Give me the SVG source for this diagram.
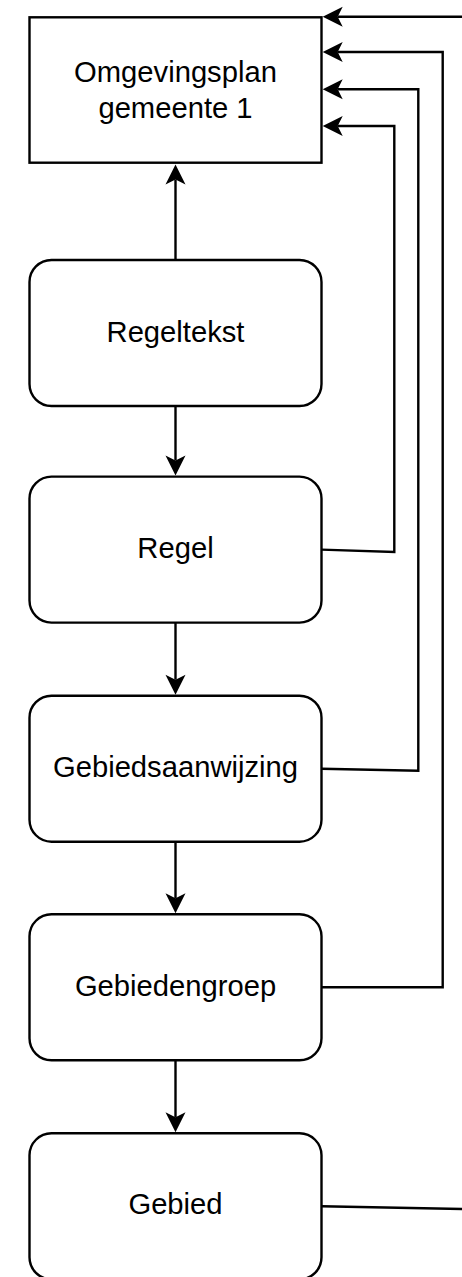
<svg xmlns="http://www.w3.org/2000/svg" width="462" height="1277" viewBox="0 0 462 1277">
  <style>
    .box { fill: #ffffff; stroke: #000000; stroke-width: 2.4; }
    .lbl { font-family: "Liberation Sans", Arial, Helvetica, sans-serif; font-size: 29.2px; fill: #000000; text-anchor: middle; }
    .edge { fill: none; stroke: #000000; stroke-width: 2.4; marker-end: url(#arr); }
  </style>
  <defs>
    <marker id="arr" markerUnits="userSpaceOnUse" markerWidth="21" markerHeight="21" refX="5" refY="10" orient="auto" overflow="visible">
      <path d="M0,0 L20,10 L0,20 L5,10 Z" fill="#000000"/>
    </marker>
  </defs>
  <rect x="0" y="0" width="462" height="1277" fill="#ffffff"/>

  <g id="connectors">
    <path class="edge" d="M175.5 260 V179.5"/>
    <path class="edge" d="M175.5 406 V460.5"/>
    <path class="edge" d="M175.5 622.6 V679.7"/>
    <path class="edge" d="M175.5 841.7 V898.3"/>
    <path class="edge" d="M175.5 1060.3 V1117.3"/>
    <path class="edge" d="M321.5 549.6 L394.3 552 V126 H337.7"/>
    <path class="edge" d="M321.5 768.7 L418.3 770.7 V89.3 H337.7"/>
    <path class="edge" d="M321.5 987.3 H442.7 V52 H337.7"/>
    <path class="edge" d="M321.5 1206.3 L480 1209.3 V16.7 H337.7"/>
  </g>

  <g id="omgevingsplan">
    <rect class="box" x="29.5" y="17.3" width="292" height="145.4"/>
    <text class="lbl" x="175.5" y="81.5">Omgevingsplan</text>
    <text class="lbl" x="175.5" y="118">gemeente 1</text>
  </g>
  <g id="regeltekst">
    <rect class="box" x="29.5" y="260" width="292" height="146" rx="22" ry="22"/>
    <text class="lbl" x="175.5" y="341.7">Regeltekst</text>
  </g>
  <g id="regel">
    <rect class="box" x="29.5" y="476.6" width="292" height="146" rx="22" ry="22"/>
    <text class="lbl" x="175.5" y="558.3">Regel</text>
  </g>
  <g id="gebiedsaanwijzing">
    <rect class="box" x="29.5" y="695.7" width="292" height="146" rx="22" ry="22"/>
    <text class="lbl" x="175.5" y="777.3">Gebiedsaanwijzing</text>
  </g>
  <g id="gebiedengroep">
    <rect class="box" x="29.5" y="914.3" width="292" height="146" rx="22" ry="22"/>
    <text class="lbl" x="175.5" y="995.7">Gebiedengroep</text>
  </g>
  <g id="gebied">
    <rect class="box" x="29.5" y="1133.3" width="292" height="146" rx="22" ry="22"/>
    <text class="lbl" x="175.5" y="1214">Gebied</text>
  </g>
</svg>
